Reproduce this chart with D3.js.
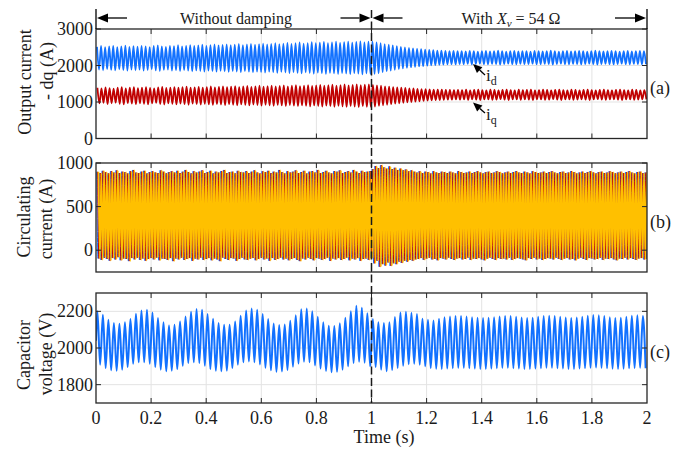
<!DOCTYPE html>
<html>
<head>
<meta charset="utf-8">
<script src="https://cdn.jsdelivr.net/npm/d3@7"></script>
<style>
  body { margin: 0; background: #fff; }
  svg { display: block; }
  text { font-family: "Liberation Serif", "Times New Roman", serif; fill: #1a1a1a; }
</style>
</head>
<body>
<svg id="chart" width="685" height="449"></svg>
<script>
// ---------------- data ----------------
const timeTicks = [0, 0.2, 0.4, 0.6, 0.8, 1, 1.2, 1.4, 1.6, 1.8, 2];
const timeTickLabels = ["0", "0.2", "0.4", "0.6", "0.8", "1", "1.2", "1.4", "1.6", "1.8", "2"];
const dqTicks = [0, 1000, 2000, 3000];
const circTicks = [0, 500, 1000];
const capTicks = [1800, 2000, 2200];
const panelTags = ["(a)", "(b)", "(c)"];

// oscillation rate of each trace (cycles per second)
const dqHz = 68;
const circHz = 100;
const capHz = 50;

// output current, d axis: crest / valley of each cycle (A)
const idHi = [
  2510,2535,2500,2525,2540,2505,2520,2545,2510,2530,
  2515,2540,2525,2505,2535,2550,2520,2510,2540,2530,
  2555,2525,2540,2560,2535,2550,2570,2540,2555,2575,
  2550,2565,2580,2555,2570,2590,2560,2575,2595,2570,
  2585,2600,2575,2590,2610,2585,2600,2620,2595,2610,
  2630,2600,2615,2640,2610,2625,2645,2615,2630,2650,
  2620,2640,2655,2625,2645,2660,2630,2650,
  2655,2630,2610,2585,2570,2550,2530,2510,2495,2480,
  2470,2455,2445,2435,2425,2420,2410,2405,2400,2395,2400,2390,
  2395,2385,2400,2390,2380,2395,2400,2385,2390,2405,
  2390,2380,2395,2400,2385,2395,2390,2380,2400,2395,
  2385,2390,2405,2390,2380,2395,2400,2385,2390,2400,
  2390,2380,2395,2405,2390,2385,2395,2400,2390,2380,
  2395,2400,2385,2390,2400,2395
];
const idLo = [
  1890,1870,1900,1880,1865,1895,1875,1860,1890,1870,
  1885,1860,1875,1895,1865,1850,1880,1890,1860,1870,
  1850,1875,1860,1840,1865,1850,1835,1860,1845,1830,
  1855,1840,1825,1850,1835,1815,1845,1830,1810,1835,
  1820,1805,1830,1815,1800,1825,1810,1790,1815,1800,
  1785,1810,1795,1775,1805,1790,1770,1800,1785,1770,
  1795,1780,1765,1790,1775,1760,1785,1770,
  1770,1790,1815,1840,1860,1880,1900,1920,1935,1950,
  1965,1975,1985,1995,2005,2010,2020,2025,2030,2035,2030,2040,
  2035,2045,2030,2040,2050,2035,2030,2045,2040,2025,
  2040,2050,2035,2030,2045,2035,2040,2050,2030,2035,
  2045,2040,2025,2040,2050,2035,2030,2045,2040,2030,
  2040,2050,2035,2025,2040,2045,2035,2030,2040,2050,
  2035,2030,2045,2040,2030,2035
];
// output current, q axis (A)
const iqHi = [
  1390,1370,1400,1380,1365,1395,1410,1375,1390,1405,
  1380,1395,1410,1385,1370,1400,1415,1385,1395,1410,
  1390,1405,1420,1390,1400,1415,1395,1410,1425,1400,
  1415,1430,1405,1420,1435,1410,1425,1440,1415,1430,
  1445,1420,1435,1450,1425,1440,1455,1430,1445,1460,
  1435,1450,1465,1440,1455,1470,1445,1460,1475,1450,
  1465,1480,1455,1470,1485,1460,1475,1480,
  1470,1455,1445,1430,1420,1410,1400,1390,1385,1375,
  1370,1360,1355,1350,1345,1340,1335,1335,1330,1330,1325,1330,
  1325,1335,1320,1330,1340,1325,1320,1335,1330,1315,
  1330,1340,1325,1320,1335,1325,1330,1340,1320,1325,
  1335,1330,1315,1330,1340,1325,1320,1335,1330,1320,
  1330,1340,1325,1315,1330,1335,1325,1320,1330,1340,
  1325,1320,1335,1330,1320,1325
];
const iqLo = [
  960,975,945,965,980,950,935,970,955,940,
  965,950,935,960,975,945,930,960,950,935,
  955,940,925,955,945,930,950,935,920,945,
  930,915,940,925,910,935,920,905,930,915,
  900,925,910,895,920,905,890,915,900,885,
  910,895,880,905,890,875,900,885,870,895,
  880,865,890,875,860,885,870,865,
  875,895,910,925,940,955,965,980,990,1000,
  1010,1020,1030,1040,1045,1050,1055,1060,1065,1065,1070,1065,
  1070,1060,1075,1065,1055,1070,1075,1060,1065,1080,
  1065,1055,1070,1075,1060,1070,1065,1055,1075,1070,
  1060,1065,1080,1065,1055,1070,1075,1060,1065,1075,
  1065,1055,1070,1080,1065,1060,1070,1075,1065,1055,
  1070,1075,1060,1065,1075,1070
];

// circulating current (A): crest / valley of each cycle, shared by the three arms
const circHi = [
  900,885,910,895,880,905,890,915,885,900,
  895,880,905,920,890,885,900,910,880,895,
  905,890,885,915,900,880,895,905,890,910,
  885,900,920,895,880,905,890,900,915,885,
  895,910,880,900,890,905,920,885,895,900,
  880,910,895,890,905,885,900,915,890,880,
  905,895,910,885,900,890,920,895,880,905,
  890,900,915,885,895,910,880,900,905,890,
  920,885,895,910,890,880,905,900,915,885,
  895,905,890,920,900,885,910,895,900,905,
  930,965,940,975,950,935,960,930,945,920,935,915,925,905,915,900,
  890,905,885,900,895,880,905,890,885,900,
  895,885,900,890,880,905,895,885,890,900,
  885,895,905,890,880,895,900,885,890,905,
  895,880,890,900,885,895,905,890,885,900,
  890,880,905,895,885,890,900,885,895,905,
  890,880,895,900,885,890,905,895,880,890,
  900,885,895,905,890,880,895,900,885,890,
  905,895,880,890,900,885,895,905,890,880,
  895,900,885,890
];
const circLo = [
  -95,-110,-85,-100,-120,-90,-105,-80,-115,-95,
  -100,-125,-90,-105,-85,-110,-95,-120,-100,-90,
  -105,-85,-115,-95,-100,-110,-90,-125,-95,-105,
  -85,-110,-100,-90,-120,-95,-105,-85,-110,-100,
  -90,-115,-95,-105,-125,-85,-100,-110,-90,-95,
  -120,-100,-85,-105,-110,-95,-90,-115,-100,-85,
  -105,-95,-120,-90,-110,-100,-85,-105,-95,-115,
  -100,-90,-110,-125,-95,-105,-85,-100,-115,-90,
  -95,-110,-100,-85,-120,-95,-105,-90,-110,-100,
  -85,-115,-95,-105,-90,-120,-100,-95,-110,-90,
  -150,-120,-190,-160,-175,-140,-180,-150,-160,-130,-145,-120,-130,-110,-120,-105,
  -100,-90,-110,-95,-85,-105,-100,-115,-90,-95,
  -105,-85,-100,-110,-95,-90,-105,-100,-85,-110,
  -95,-100,-90,-105,-115,-95,-85,-100,-110,-90,
  -100,-95,-105,-85,-110,-100,-90,-95,-105,-115,
  -90,-100,-85,-105,-95,-110,-100,-90,-95,-105,
  -85,-100,-110,-95,-90,-105,-100,-115,-95,-85,
  -100,-110,-90,-95,-105,-100,-85,-110,-95,-100,
  -90,-105,-115,-95,-100,-85,-105,-90,-100,-110,
  -95,-90,-105,-100
];

// capacitor voltage (V): value at t = 0, then crest / valley of each cycle
const capStart = 2040;
const capPeak = [
  2200,2181,2154,2136,2132,2140,2158,2187,2205,2209,
  2194,2163,2140,2123,2127,2145,2172,2198,2213,2209,
  2185,2160,2136,2127,2127,2145,2176,2205,2215,2209,
  2185,2158,2134,2125,2128,2148,2178,2212,2215,2200,
  2170,2140,2122,2120,2135,2165,2200,2230,2220,2190,
  2158,2140,2136,2140,2169,2194,2198,2192,2185,2160,
  2154,2150,2160,2168,2172,2175,2175,2172,2168,2165,
  2163,2165,2168,2172,2175,2174,2170,2166,2163,2165,
  2170,2174,2176,2174,2170,2166,2164,2166,2170,2176,
  2180,2178,2174,2168,2164,2165,2170,2176,2178,2174
];
const capTrough = [
  1909,1891,1878,1876,1882,1896,1914,1922,1922,1914,
  1896,1882,1873,1876,1885,1903,1918,1922,1918,1903,
  1885,1876,1873,1876,1891,1909,1922,1927,1922,1910,
  1892,1878,1870,1872,1880,1898,1915,1925,1922,1905,
  1888,1875,1868,1870,1882,1900,1918,1925,1920,1900,
  1896,1882,1873,1880,1891,1903,1912,1914,1909,1900,
  1891,1887,1886,1888,1890,1892,1892,1890,1888,1886,
  1886,1888,1890,1892,1892,1890,1888,1886,1886,1888,
  1890,1892,1892,1890,1888,1886,1886,1888,1890,1892,
  1893,1892,1890,1887,1886,1887,1889,1891,1892,1890
];

// ---------------- drawing ----------------
const svg = d3.select("#chart");
const colBlue = "#1271ff", colRed = "#c00000", colYellow = "#ffc000";
const frameCol = "#262626", gridCol = "#e3e3e3";

const x = d3.scaleLinear().domain([0, 2]).range([96, 647]);

const panels = [
  { top: 29,  bottom: 138.5, domain: [0, 3000],   ticks: dqTicks },
  { top: 163, bottom: 272,   domain: [-250, 1000], ticks: circTicks },
  { top: 293, bottom: 403,   domain: [1700, 2300], ticks: capTicks }
];
panels.forEach(p => { p.y = d3.scaleLinear().domain(p.domain).range([p.bottom, p.top]); });

// crest/valley sequence -> [t, value] points
function cyclePoints(hi, lo, hz, shift) {
  const pts = [];
  hi.forEach((v, i) => {
    pts.push([(i + shift + 0.25) / hz, v]);
    pts.push([(i + shift + 0.75) / hz, lo[i]]);
  });
  return pts;
}

const defs = svg.append("defs");

panels.forEach((p, k) => {
  const g = svg.append("g");
  const y = p.y;
  // grid
  g.selectAll(".vg").data(timeTicks.slice(1, -1)).enter().append("line")
    .attr("x1", d => x(d)).attr("x2", d => x(d))
    .attr("y1", p.top).attr("y2", p.bottom)
    .attr("stroke", gridCol).attr("stroke-width", 1);
  g.selectAll(".hg").data(p.ticks.filter(t => y(t) > p.top + 1 && y(t) < p.bottom - 1)).enter().append("line")
    .attr("x1", x(0)).attr("x2", x(2))
    .attr("y1", d => y(d)).attr("y2", d => y(d))
    .attr("stroke", gridCol).attr("stroke-width", 1);

  defs.append("clipPath").attr("id", "clip" + k)
    .append("rect").attr("x", x(0)).attr("y", p.top)
    .attr("width", x(2) - x(0)).attr("height", p.bottom - p.top);
  p.plot = svg.append("g").attr("clip-path", "url(#clip" + k + ")");
});

const lineGen = (p) => d3.line().x(d => x(d[0])).y(d => p.y(d[1])).curve(d3.curveMonotoneX);

// (a) dq output currents
{
  const p = panels[0];
  p.plot.append("path").datum(cyclePoints(idHi, idLo, dqHz, 0))
    .attr("d", lineGen(p)).attr("fill", "none").attr("stroke", colBlue).attr("stroke-width", 1.8);
  p.plot.append("path").datum(cyclePoints(iqHi, iqLo, dqHz, 0.1))
    .attr("d", lineGen(p)).attr("fill", "none").attr("stroke", colRed).attr("stroke-width", 1.8);
}
// (b) circulating currents of the three arms
{
  const p = panels[1];
  [[colBlue, 0, 1], [colRed, 1 / 3, 1], [colYellow, 2 / 3, 1.7]].forEach(([c, s, w]) => {
    p.plot.append("path").datum(cyclePoints(circHi, circLo, circHz, s))
      .attr("d", lineGen(p)).attr("fill", "none").attr("stroke", c).attr("stroke-width", w);
  });
}
// (c) capacitor voltage
{
  const p = panels[2];
  const pts = [[0, capStart]].concat(cyclePoints(capPeak, capTrough, capHz, 0));
  p.plot.append("path").datum(pts)
    .attr("d", lineGen(p)).attr("fill", "none").attr("stroke", colBlue).attr("stroke-width", 2);
}

// frames, ticks, tick labels
const tickLen = 5;
panels.forEach((p, k) => {
  const g = svg.append("g");
  const y = p.y;
  timeTicks.slice(1, -1).forEach(t => {
    g.append("line").attr("x1", x(t)).attr("x2", x(t)).attr("y1", p.bottom).attr("y2", p.bottom - tickLen)
      .attr("stroke", frameCol).attr("stroke-width", 1);
    g.append("line").attr("x1", x(t)).attr("x2", x(t)).attr("y1", p.top).attr("y2", p.top + tickLen)
      .attr("stroke", frameCol).attr("stroke-width", 1);
  });
  p.ticks.forEach(v => {
    g.append("line").attr("x1", x(0)).attr("x2", x(0) + tickLen).attr("y1", y(v)).attr("y2", y(v))
      .attr("stroke", frameCol).attr("stroke-width", 1);
    g.append("line").attr("x1", x(2)).attr("x2", x(2) - tickLen).attr("y1", y(v)).attr("y2", y(v))
      .attr("stroke", frameCol).attr("stroke-width", 1);
    g.append("text").attr("x", 93).attr("y", y(v) + 6)
      .attr("text-anchor", "end").attr("font-size", 18).text(v);
  });
  g.append("rect").attr("x", x(0)).attr("y", p.top)
    .attr("width", x(2) - x(0)).attr("height", p.bottom - p.top)
    .attr("fill", "none").attr("stroke", frameCol).attr("stroke-width", 1.3);
  g.append("text").attr("x", 650).attr("y", (p.top + p.bottom) / 2 + 10)
    .attr("font-size", 18).text(panelTags[k]);
});

// time axis labels
svg.append("g").selectAll("text").data(timeTicks).enter().append("text")
  .attr("x", d => x(d)).attr("y", 424).attr("text-anchor", "middle")
  .attr("font-size", 18).text((d, i) => timeTickLabels[i]);
svg.append("text").attr("x", 384).attr("y", 443).attr("text-anchor", "middle")
  .attr("font-size", 18).text("Time (s)");

// y-axis titles
function yTitle(lines) {
  lines.forEach(([txt, bx, cy]) => {
    svg.append("text").attr("transform", `translate(${bx},${cy}) rotate(-90)`)
      .attr("text-anchor", "middle").attr("font-size", 18).text(txt);
  });
}
yTitle([["Output current", 31, 82], ["- dq (A)", 53, 71]]);
yTitle([["Circulating", 30, 217], ["current (A)", 52, 219]]);
yTitle([["Capacitor", 30, 355], ["voltage (V)", 52, 354]]);

// switching instant
svg.append("line").attr("x1", x(1)).attr("x2", x(1)).attr("y1", 10).attr("y2", panels[2].bottom)
  .attr("stroke", "#1a1a1a").attr("stroke-width", 1.5).attr("stroke-dasharray", "8,3.5");

// interval arrows
function arrow(x1, y1, x2, y2, head, half) {
  const a = Math.atan2(y2 - y1, x2 - x1);
  const bx = x2 - head * Math.cos(a), by = y2 - head * Math.sin(a);
  svg.append("line").attr("x1", x1).attr("y1", y1).attr("x2", bx).attr("y2", by)
    .attr("stroke", "#000").attr("stroke-width", 1.3);
  const px = -Math.sin(a) * half, py = Math.cos(a) * half;
  svg.append("path").attr("d", `M${x2},${y2}L${bx + px},${by + py}L${bx - px},${by - py}Z`).attr("fill", "#000");
}
const ya = 18;
[x(0), x(2)].forEach(xx => {
  svg.append("line").attr("x1", xx).attr("x2", xx).attr("y1", 9).attr("y2", panels[0].top)
    .attr("stroke", "#000").attr("stroke-width", 1.3);
});
arrow(x(0) + 31, ya, x(0) + 1, ya, 11, 4.5);
arrow(x(1) - 31, ya, x(1) - 1, ya, 11, 4.5);
arrow(x(1) + 31, ya, x(1) + 1, ya, 11, 4.5);
arrow(x(2) - 32, ya, x(2) - 1, ya, 11, 4.5);

svg.append("text").attr("x", 236).attr("y", 23.5).attr("text-anchor", "middle")
  .attr("font-size", 16).text("Without damping");
const wt = svg.append("text").attr("x", 511).attr("y", 23.5).attr("text-anchor", "middle").attr("font-size", 16);
wt.append("tspan").text("With ");
wt.append("tspan").attr("font-style", "italic").text("X");
wt.append("tspan").attr("font-style", "italic").attr("font-size", 11).attr("dy", 3).text("v");
wt.append("tspan").attr("dy", -3).text(" = 54 Ω");

// trace labels
arrow(485, 75, 473, 64, 9, 4);
arrow(485, 113, 473, 102.5, 9, 4);
const ld = svg.append("text").attr("x", 486).attr("y", 81).attr("font-size", 17);
ld.append("tspan").text("i");
ld.append("tspan").attr("font-size", 12).attr("dy", 4).text("d");
const lq = svg.append("text").attr("x", 486).attr("y", 120).attr("font-size", 17);
lq.append("tspan").text("i");
lq.append("tspan").attr("font-size", 12).attr("dy", 4).text("q");
</script>
</body>
</html>
